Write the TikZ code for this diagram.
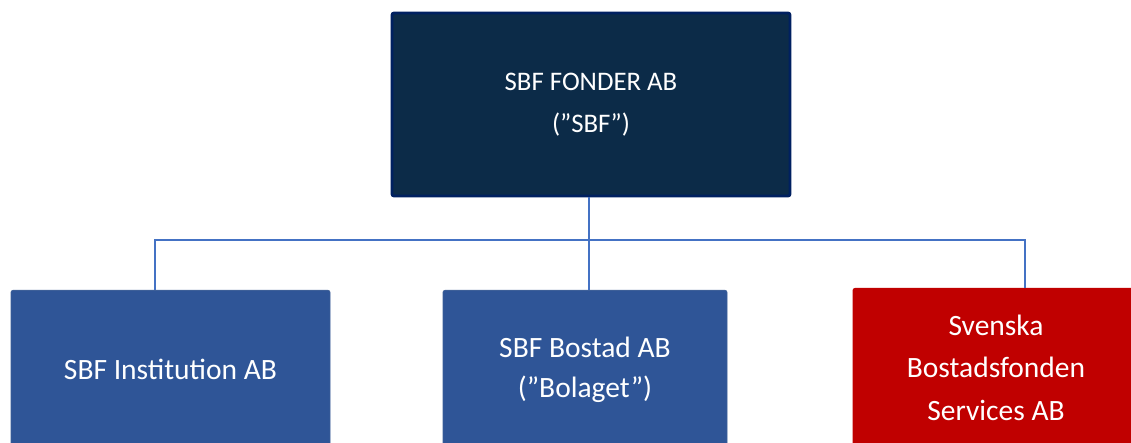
\documentclass[tikz,border=0pt]{standalone}
\usepackage{fontspec}
\setmainfont{Carlito}
\definecolor{topfill}{HTML}{0C2B48}
\definecolor{topline}{HTML}{002060}
\definecolor{bluefill}{HTML}{2F5597}
\definecolor{blueline}{HTML}{3D5F98}
\definecolor{redfill}{HTML}{C00000}
\definecolor{connc}{HTML}{4472C4}
\begin{document}
\begin{tikzpicture}[x=1pt,y=1pt,
  topbox/.style={draw=topline, line width=2.8pt, fill=topfill, rounded corners=2pt,
    minimum width=398pt, minimum height=183pt, inner sep=0pt, text=white,
    align=center, font=\fontsize{26.8}{42}\selectfont},
  subbox/.style={draw=blueline, line width=0.8pt, fill=bluefill, rounded corners=2pt,
    anchor=north, minimum height=158pt, inner sep=0pt, text=white,
    align=center, font=\fontsize{29.5}{42.5}\selectfont},
  conn/.style={draw=connc, line width=1.8pt}]
\useasboundingbox (0,0) rectangle (1131,-443);
\clip (0,0) rectangle (1131,-443);
\node[topbox] (top) at (591,-104.5) {SBF FONDER AB\\(”SBF”)};
\node[subbox, minimum width=319pt] (b1) at (170.5,-290) {SBF Institution AB};
\node[subbox, minimum width=284pt, font=\fontsize{29.5}{40}\selectfont] (b2) at (585,-290) {SBF Bostad AB\\(”Bolaget”)};
\node[subbox, minimum width=286pt, fill=redfill, draw=redfill] (b3) at (996,-288) {Svenska\\Bostadsfonden\\Services AB};
\coordinate (busL) at (155,-240);
\coordinate (busM) at (589,-240);
\coordinate (busR) at (1025,-240);
\draw[conn] (busL |- b1.north) -- (busL) -- (busR) -- (busR |- b3.north);
\draw[conn] (busM |- top.south) -- (busM |- b2.north);
\end{tikzpicture}
\end{document}
